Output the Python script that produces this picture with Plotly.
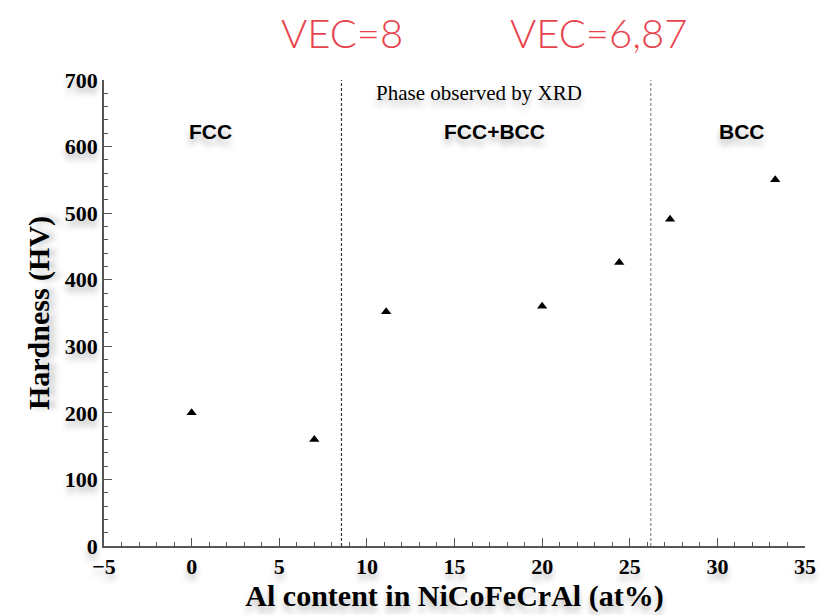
import plotly.graph_objects as go

al_content = [0, 7.0, 11.1, 20.0, 24.4, 27.3, 33.3]
hardness = [200, 160, 352, 360, 426, 491, 550]
phase_boundaries = [8.55, 26.2]
phase_labels = ["FCC", "FCC+BCC", "BCC"]
phase_label_x = [1.1, 17.3, 31.4]
vec_labels = ["VEC=8", "VEC=6,87"]
vec_label_x = [8.6, 23.2]

fig = go.Figure()
fig.add_trace(go.Scatter(
    x=al_content, y=hardness, mode="markers",
    marker=dict(symbol="triangle-up", size=9, color="black"),
    showlegend=False,
))

shadow = "0px 6px 6px rgba(0,0,0,0.25)"

for xb, col in zip(phase_boundaries, ["#333333", "#888888"]):
    fig.add_shape(type="line", x0=xb, x1=xb, y0=0, y1=1, xref="x", yref="paper",
                  line=dict(color=col, width=1.2, dash="3px,2px"))

for lab, xx in zip(phase_labels, phase_label_x):
    fig.add_annotation(x=xx, y=623, text=lab, showarrow=False,
                       font=dict(family="Liberation Sans", size=21, color="black",
                                 weight="bold", shadow=shadow))

fig.add_annotation(x=16.4, y=680, text="Phase observed by XRD", showarrow=False,
                   font=dict(family="Liberation Serif", size=21, color="black", shadow=shadow))

for lab, xx in zip(vec_labels, vec_label_x):
    fig.add_annotation(x=xx, y=1.1, yref="paper", yanchor="middle", text=lab,
                       showarrow=False,
                       font=dict(family="Lato", size=40, color="#e8434c", weight=300))

axis_common = dict(
    showline=True, linecolor="#555555", linewidth=1.5,
    ticks="inside", tickcolor="#555555", ticklen=8, tickwidth=1.3,
    showgrid=False, zeroline=False, mirror=False,
    tickfont=dict(family="Liberation Serif", size=22, color="black", weight="bold", shadow=shadow),
    minor=dict(ticks="inside", ticklen=4, tickcolor="#555555", tickwidth=1),
)

fig.update_xaxes(range=[-5, 35], dtick=5, minor_dtick=1,
                 title=dict(text="Al content in NiCoFeCrAl (at%)", standoff=4,
                            font=dict(family="Liberation Serif", size=30, color="black",
                                      weight="bold", shadow=shadow)),
                 **axis_common)
fig.update_yaxes(range=[0, 700], dtick=100, minor_dtick=20,
                 title=dict(text="Hardness (HV)", standoff=6,
                            font=dict(family="Liberation Serif", size=30, color="black",
                                      weight="bold", shadow=shadow)),
                 **axis_common)

fig.update_layout(
    width=838, height=615,
    margin=dict(l=96, r=41, t=72, b=77),
    plot_bgcolor="white", paper_bgcolor="white",
)

fig.write_html("out.html")
